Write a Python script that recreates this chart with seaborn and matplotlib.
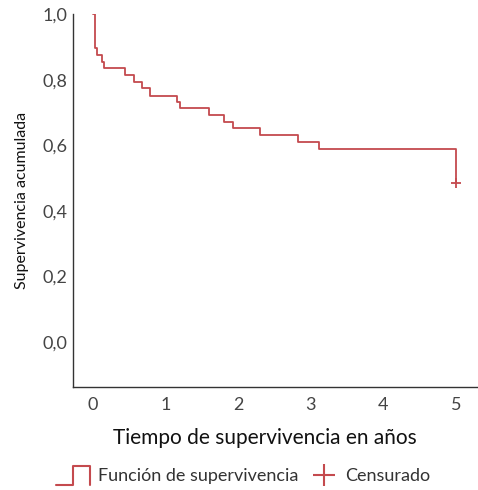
import numpy as np
import pandas as pd
import matplotlib
matplotlib.use("Agg")
import matplotlib.pyplot as plt
import seaborn as sns
from matplotlib.legend_handler import HandlerBase
from matplotlib.lines import Line2D

# Data
times = [0.0, 0.03, 0.065, 0.13, 0.15, 0.44, 0.57, 0.68, 0.79, 1.165, 1.2,
         1.6, 1.8, 1.93, 2.3, 2.82, 3.11, 5.0]
survival = [1.0, 0.897, 0.876, 0.855, 0.835, 0.815, 0.794, 0.774, 0.752,
            0.733, 0.713, 0.692, 0.672, 0.652, 0.633, 0.610, 0.589, 0.485]
censored_times = [5.0]
censored_surv = [0.485]
x_ticks = [0, 1, 2, 3, 4, 5]
y_ticks = [0.0, 0.2, 0.4, 0.6, 0.8, 1.0]
y_tick_labels = ["0,0", "0,2", "0,4", "0,6", "0,8", "1,0"]

RED = "#c44a4e"
GREY = "#333333"

sns.set_theme(style="white")
plt.rcParams["font.family"] = ["Lato", "DejaVu Sans"]

df = pd.DataFrame({"t": times, "s": survival})
cens = pd.DataFrame({"t": censored_times, "s": censored_surv})

fig = plt.figure(figsize=(4.78, 4.90), dpi=100)
ax = fig.add_axes([73 / 478, 103 / 490, 1 - 73 / 478, (387 - 14.3) / 490])

sns.lineplot(data=df, x="t", y="s", drawstyle="steps-post", color=RED,
             linewidth=1.3, ax=ax, legend=False)
sns.scatterplot(data=cens, x="t", y="s", marker="+", s=60, color=RED,
                linewidth=1.3, ax=ax, legend=False, zorder=3)

ax.set_xlim(-0.27, 5.3)
ax.set_ylim(-0.137, 1.0)
ax.set_xticks(x_ticks)
ax.set_xticklabels([str(v) for v in x_ticks])
ax.set_yticks(y_ticks)
ax.set_yticklabels(y_tick_labels)

for side in ["top", "right"]:
    ax.spines[side].set_visible(False)
for side in ["left", "bottom"]:
    ax.spines[side].set_color(GREY)
    ax.spines[side].set_linewidth(1.0)

ax.tick_params(axis="both", direction="in", length=6, width=1.0,
               color=GREY, labelsize=13, labelcolor="#444444")
ax.tick_params(axis="x", pad=7)
ax.tick_params(axis="y", pad=4)

ax.set_xlabel("Tiempo de supervivencia en años", fontsize=15, color="#111111")
ax.set_ylabel("Supervivencia acumulada", fontsize=11.5, color="#111111")
ax.xaxis.set_label_coords((265 - 73) / 405, -0.11)
ax.yaxis.set_label_coords(-0.109, 0.5)


class StepHandler(HandlerBase):
    def create_artists(self, legend, orig_handle, xdescent, ydescent,
                       width, height, fontsize, trans):
        w, h = width, height * 1.5
        y0 = -height * 0.3
        xs = [0, w * 0.5, w * 0.5, w, w]
        ys = [y0, y0, y0 + h, y0 + h, y0]
        line = Line2D(xs, ys, color=RED, linewidth=1.5, transform=trans)
        return [line]


class CensHandler(HandlerBase):
    def create_artists(self, legend, orig_handle, xdescent, ydescent,
                       width, height, fontsize, trans):
        m = Line2D([width * 0.6], [height * 0.45], color=RED, marker="+",
                   linestyle="None", markersize=16, markeredgewidth=1.5,
                   transform=trans)
        return [m]


step_handle = Line2D([], [], color=RED)
cens_handle = Line2D([], [], color=RED)
fig.legend([step_handle, cens_handle],
           ["Función de supervivencia", "Censurado"],
           handler_map={step_handle: StepHandler(), cens_handle: CensHandler()},
           loc="lower center", bbox_to_anchor=(243 / 478, -0.021), ncol=2,
           frameon=False, fontsize=13, handlelength=1.9, handletextpad=0.4,
           columnspacing=0.3, labelcolor="#333333")

fig.savefig("out.png", dpi=100)
